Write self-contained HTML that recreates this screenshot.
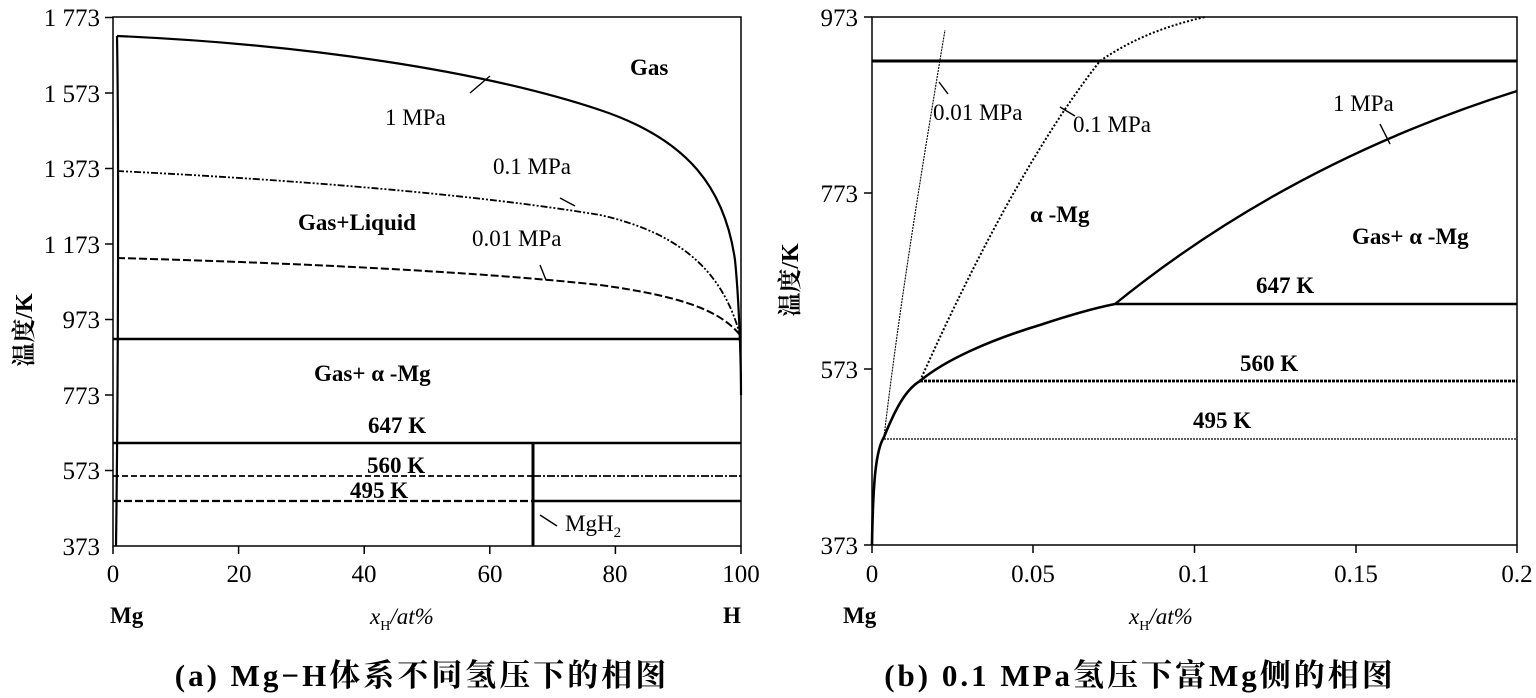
<!DOCTYPE html>
<html><head><meta charset="utf-8"><style>
body{margin:0;background:#fff;}
svg{display:block;font-family:"Liberation Serif","Noto Serif CJK SC",serif;}
</style></head><body>
<svg width="1536" height="698" viewBox="0 0 1536 698" xmlns="http://www.w3.org/2000/svg">
<g fill="none" stroke="#000">
<rect x="113" y="17" width="628" height="529" stroke-width="1.5"/>
<g stroke-width="1.5">
<line x1="105" y1="17.5" x2="113" y2="17.5"/><line x1="105" y1="93" x2="113" y2="93"/><line x1="105" y1="168.5" x2="113" y2="168.5"/><line x1="105" y1="244" x2="113" y2="244"/><line x1="105" y1="319.5" x2="113" y2="319.5"/><line x1="105" y1="395" x2="113" y2="395"/><line x1="105" y1="470.5" x2="113" y2="470.5"/>
<line x1="113" y1="546" x2="113" y2="554"/><line x1="238.6" y1="546" x2="238.6" y2="554"/><line x1="364.2" y1="546" x2="364.2" y2="554"/><line x1="489.8" y1="546" x2="489.8" y2="554"/><line x1="615.4" y1="546" x2="615.4" y2="554"/><line x1="741" y1="546" x2="741" y2="554"/>
</g>
<path d="M117,36 C300,44 480,70 600,110 C690,140 725,190 735,260 C739,300 741,360 741,395" stroke-width="2.2"/>
<path d="M117,36 C119,150 118,400 116,546" stroke-width="2.2"/>
<path d="M117,171 C300,180 480,195 600,215 C690,235 725,280 740,335" stroke-width="1.8" stroke-dasharray="7,2,2,2,2,2"/>
<path d="M117,258 C300,263 480,272 600,285 C680,296 720,310 740,335" stroke-width="2" stroke-dasharray="8,3"/>
<line x1="113" y1="339" x2="741" y2="339" stroke-width="2.5"/>
<line x1="113" y1="443" x2="741" y2="443" stroke-width="2.5"/>
<line x1="113" y1="476" x2="533" y2="476" stroke-width="1.8" stroke-dasharray="6,3"/>
<line x1="533" y1="476" x2="741" y2="476" stroke-width="1.8" stroke-dasharray="8,2,2,2"/>
<line x1="113" y1="501" x2="533" y2="501" stroke-width="2.2" stroke-dasharray="8,3"/>
<line x1="533" y1="501" x2="741" y2="501" stroke-width="2.5"/>
<line x1="533" y1="443" x2="533" y2="546" stroke-width="3"/>
<g stroke-width="1.4">
<line x1="470" y1="93" x2="490" y2="76"/><line x1="560" y1="198" x2="575" y2="206"/><line x1="540" y1="265" x2="546" y2="280"/><line x1="540" y1="515" x2="557" y2="526"/>
</g>
<rect x="872" y="17" width="645" height="528" stroke-width="1.5"/>
<g stroke-width="1.5">
<line x1="864" y1="17" x2="872" y2="17"/><line x1="864" y1="193" x2="872" y2="193"/><line x1="864" y1="369" x2="872" y2="369"/><line x1="864" y1="545" x2="872" y2="545"/>
<line x1="872" y1="545" x2="872" y2="553"/><line x1="1033" y1="545" x2="1033" y2="553"/><line x1="1194.5" y1="545" x2="1194.5" y2="553"/><line x1="1356" y1="545" x2="1356" y2="553"/><line x1="1517" y1="545" x2="1517" y2="553"/>
</g>
<line x1="872" y1="61" x2="1517" y2="61" stroke-width="3"/>
<line x1="1115" y1="304" x2="1517" y2="304" stroke-width="2.5"/>
<line x1="920" y1="381" x2="1517" y2="381" stroke-width="2.8" stroke-dasharray="3,1"/>
<line x1="884" y1="439" x2="1517" y2="439" stroke-width="1.3" stroke-dasharray="2,1"/>
<path d="M872,545 C873,480 876,450 884,437 C895,410 905,390 920,381 C945,360 990,340 1040,325 C1070,315 1095,308 1115,304" stroke-width="2.6"/>
<path d="M1115,304 C1200,235 1330,150 1517,91" stroke-width="2.4"/>
<path d="M920,381 C965,280 1030,150 1100,61 C1135,37 1170,25 1205,17" stroke-width="2" stroke-dasharray="2,2"/>
<path d="M884,437 C900,300 925,150 945,30" stroke-width="1.1" stroke-dasharray="2,1"/>
<g stroke-width="1.4">
<line x1="1380" y1="124" x2="1390" y2="144"/><line x1="939" y1="82" x2="948" y2="94"/><line x1="1060" y1="107" x2="1075" y2="116"/>
</g>
</g>
<g font-size="25" fill="#000" text-anchor="end">
<text x="100" y="26">1 773</text><text x="100" y="102">1 573</text><text x="100" y="177">1 373</text><text x="100" y="253">1 173</text><text x="100" y="328">973</text><text x="100" y="404">773</text><text x="100" y="479">573</text><text x="100" y="555">373</text>
<text x="858" y="26">973</text><text x="858" y="202">773</text><text x="858" y="378">573</text><text x="858" y="554">373</text>
</g>
<g font-size="25" fill="#000" text-anchor="middle">
<text x="113" y="582">0</text><text x="239" y="582">20</text><text x="364" y="582">40</text><text x="490" y="582">60</text><text x="615" y="582">80</text><text x="741" y="582">100</text>
<text x="872" y="582">0</text><text x="1033" y="582">0.05</text><text x="1194" y="582">0.1</text><text x="1356" y="582">0.15</text><text x="1517" y="582">0.2</text>
</g>
<g font-size="23" fill="#000" font-weight="bold">
<text x="110" y="623">Mg</text><text x="723" y="623">H</text><text x="843" y="623">Mg</text>
<text x="630" y="75">Gas</text>
<text x="298" y="230">Gas+Liquid</text>
<text x="314" y="381">Gas+ α -Mg</text>
<text x="1030" y="222">α -Mg</text>
<text x="1352" y="244">Gas+ α -Mg</text>
<text x="368" y="433">647 K</text><text x="367" y="473">560 K</text><text x="350" y="498">495 K</text>
<text x="1256" y="293">647 K</text><text x="1240" y="371">560 K</text><text x="1193" y="428">495 K</text>
</g>
<g font-size="23" fill="#000">
<text x="385" y="125">1 MPa</text><text x="493" y="174">0.1 MPa</text><text x="472" y="246">0.01 MPa</text>
<text x="565" y="531">MgH<tspan font-size="15" dy="6">2</tspan></text>
<text x="1333" y="111">1 MPa</text><text x="933" y="120">0.01 MPa</text><text x="1073" y="132">0.1 MPa</text>
<text x="370" y="624" font-style="italic">x<tspan font-size="14" dy="6" font-style="normal">H</tspan><tspan dy="-6">/at%</tspan></text>
<text x="1129" y="624" font-style="italic">x<tspan font-size="14" dy="6" font-style="normal">H</tspan><tspan dy="-6">/at%</tspan></text>
</g>
<g font-size="24" fill="#000" font-weight="bold">
<text transform="translate(32,330) rotate(-90)" text-anchor="middle">温度/K</text>
<text transform="translate(798,280) rotate(-90)" text-anchor="middle">温度/K</text>
</g>
<g font-size="31" fill="#000" font-weight="bold" text-anchor="middle" letter-spacing="3">
<text x="422" y="686">(a) Mg−H体系不同氢压下的相图</text>
<text x="1140" y="686">(b) 0.1 MPa氢压下富Mg侧的相图</text>
</g>
</svg>
</body></html>
